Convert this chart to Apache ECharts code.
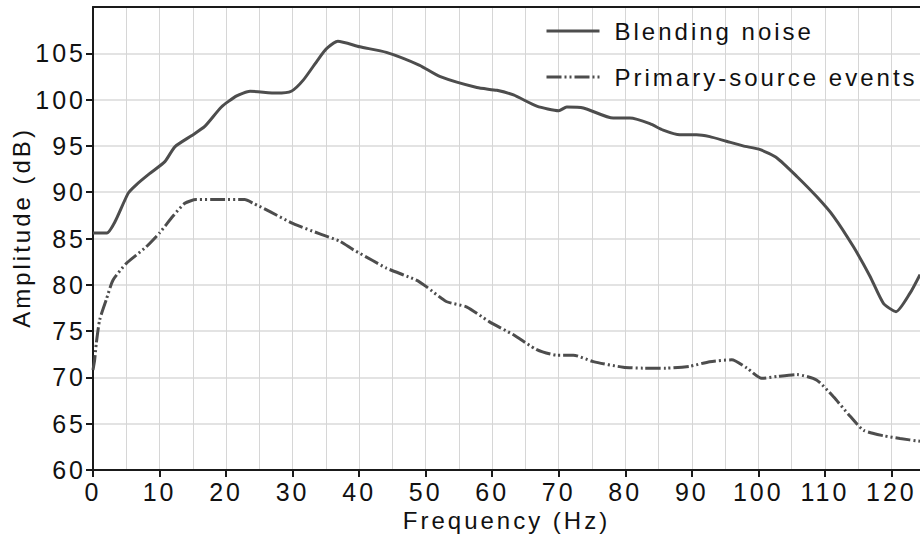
<!DOCTYPE html>
<html>
<head>
<meta charset="utf-8">
<script src="https://cdn.jsdelivr.net/npm/echarts@6/dist/echarts.min.js"></script>
<style>
    html, body { margin: 0; padding: 0; background: #fff; }
    #main { width: 920px; height: 542px; }
    #main text { letter-spacing: 3px; }
</style>
</head>
<body>
<div id="main"></div>
<script>
    // Blending noise (solid)
    var blendFreq = [0, 2.1, 3.3, 5.3, 6.5, 8.5, 10.8, 12.3, 14.8, 16.8,
        19.3, 21.6, 23.6, 27.6, 29.8, 31.6, 33.8, 35.1, 36.8, 40.1,
        44.1, 49.1, 52.1, 57.7, 60.7, 63.2, 66.7, 70.0, 71.2, 73.7,
        78.2, 80.7, 83.7, 85.7, 88.2, 90.7, 92.7, 95.2, 97.7, 100.3,
        102.8, 105.8, 108.8, 111.3, 114.3, 116.8, 118.8, 120.7, 122.8, 124.3];
    var blendAmp = [85.6, 85.6, 86.8, 89.9, 90.8, 92.0, 93.3, 94.9, 96.1, 97.1,
        99.2, 100.4, 100.9, 100.7, 100.9, 102.1, 104.3, 105.5, 106.3, 105.7,
        105.1, 103.7, 102.5, 101.3, 101.0, 100.5, 99.3, 98.8, 99.2, 99.1,
        98.0, 98.0, 97.4, 96.7, 96.2, 96.2, 96.0, 95.5, 95.0, 94.6,
        93.7, 91.7, 89.5, 87.4, 84.1, 80.9, 78.0, 77.1, 79.1, 81.1];

    // Primary-source events (dash-dot-dot)
    var primaryFreq = [0, 0.25, 0.5, 1.0, 2.0, 3.0, 5.0, 6.5, 8.0, 10.0,
        12.0, 13.8, 15.5, 19.0, 22.8, 24.1, 26.6, 30.1, 34.1, 37.1,
        39.1, 42.1, 44.1, 48.6, 50.1, 53.1, 56.2, 59.6, 63.2, 66.7,
        69.7, 72.2, 75.2, 79.7, 82.7, 86.2, 89.7, 92.7, 96.0, 98.3,
        100.5, 102.8, 105.8, 108.8, 111.3, 113.8, 115.8, 118.8, 121.3, 124.3];
    var primaryAmp = [70.8, 71.9, 73.7, 76.2, 78.4, 80.5, 82.3, 83.2, 84.1, 85.6,
        87.4, 88.8, 89.2, 89.2, 89.2, 88.8, 87.9, 86.6, 85.5, 84.7,
        83.8, 82.6, 81.8, 80.5, 79.8, 78.2, 77.6, 76.0, 74.6, 73.0,
        72.4, 72.4, 71.7, 71.1, 71.0, 71.0, 71.2, 71.7, 71.9, 71.0,
        69.9, 70.1, 70.3, 69.7, 67.9, 65.8, 64.3, 63.7, 63.4, 63.1];

    var xTicks = [0, 10, 20, 30, 40, 50, 60, 70, 80, 90, 100, 110, 120];
    var yTicks = [60, 65, 70, 75, 80, 85, 90, 95, 100, 105];

    var font = 'Liberation Sans, Arial, sans-serif';
    var lineColor = '#4d4d4d';

    var pairs = function (xs, ys) {
        var out = [];
        for (var i = 0; i < xs.length; i++) {
            out.push([xs[i], ys[i]]);
        }
        return out;
    };

    var option = {
        backgroundColor: '#fff',
        animation: false,
        grid: {left: 93, right: 0, top: 7, bottom: 72},
        legend: {
            orient: 'vertical',
            left: 540,
            top: 14,
            itemWidth: 53,
            itemHeight: 20,
            itemGap: 22,
            itemStyle: {opacity: 0},
            lineStyle: {width: 3},
            textStyle: {fontFamily: font, fontSize: 24, color: '#111', padding: [0, 0, 0, 10]},
            data: ['Blending noise', 'Primary-source events']
        },
        xAxis: [{
            type: 'value',
            min: 0,
            max: 124.3,
            interval: 10,
            name: 'Frequency (Hz)',
            nameLocation: 'middle',
            nameGap: 36,
            nameTextStyle: {fontFamily: font, fontSize: 24, color: '#111'},
            axisLine: {lineStyle: {color: '#1a1a1a', width: 2}},
            axisTick: {show: true, length: 7, customValues: xTicks, lineStyle: {color: '#1a1a1a', width: 2}},
            axisLabel: {fontFamily: font, fontSize: 25, color: '#111', margin: 9, customValues: xTicks},
            splitLine: {show: true, lineStyle: {color: '#d6d6d6', width: 1}},
            minorTick: {show: false, splitNumber: 2},
            minorSplitLine: {show: true, lineStyle: {color: '#d6d6d6', width: 1}}
        }, {
            type: 'value',
            position: 'top',
            min: 0,
            max: 124.3,
            interval: 10,
            axisLine: {show: true, lineStyle: {color: '#1a1a1a', width: 2}},
            axisTick: {show: false},
            axisLabel: {show: false},
            splitLine: {show: false}
        }],
        yAxis: {
            type: 'value',
            min: 60,
            max: 110,
            interval: 5,
            name: 'Amplitude (dB)',
            nameLocation: 'middle',
            nameGap: 55,
            nameTextStyle: {fontFamily: font, fontSize: 24, color: '#111', padding: [0, 0, 0, 22]},
            axisLine: {show: true, lineStyle: {color: '#1a1a1a', width: 2}},
            axisTick: {show: true, length: 7, customValues: yTicks, lineStyle: {color: '#1a1a1a', width: 2}},
            axisLabel: {fontFamily: font, fontSize: 25, color: '#111', margin: 7, customValues: yTicks},
            splitLine: {show: true, lineStyle: {color: '#e3e3e3', width: 2}}
        },
        series: [{
            name: 'Blending noise',
            type: 'line',
            symbol: 'none',
            smooth: 0.2,
            data: pairs(blendFreq, blendAmp),
            lineStyle: {color: lineColor, width: 3},
            itemStyle: {color: lineColor}
        }, {
            name: 'Primary-source events',
            type: 'line',
            symbol: 'none',
            smooth: 0.2,
            data: pairs(primaryFreq, primaryAmp),
            lineStyle: {color: lineColor, width: 3, type: [15, 3, 2, 3, 2, 3]},
            itemStyle: {color: lineColor}
        }]
    };

    var chart = echarts.init(document.getElementById('main'), null, {renderer: 'svg'});
    chart.setOption(option);
</script>
</body>
</html>
